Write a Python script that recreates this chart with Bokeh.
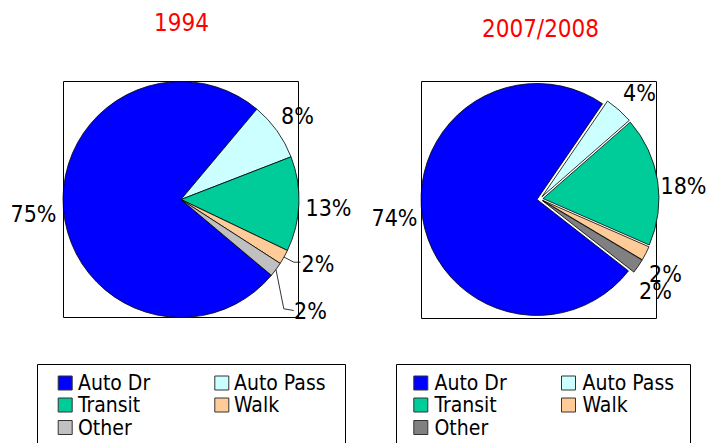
import numpy as np
from bokeh.plotting import figure
from bokeh.models import Range1d, ColumnDataSource
from bokeh.core.properties import value
from bokeh.embed import file_html
from bokeh.resources import INLINE

# ---------------- data ----------------
categories = ["Auto Dr", "Auto Pass", "Transit", "Walk", "Other"]
share_1994 = [75, 8, 13, 2, 2]
share_2008 = [74, 4, 18, 2, 2]
titles = ["1994", "2007/2008"]
colors_1994 = ["#0000FF", "#CCFFFF", "#00CC99", "#FFCC99", "#C0C0C0"]
colors_2008 = ["#0000FF", "#CCFFFF", "#00CC99", "#FFCC99", "#808080"]

# ---------------- layout (screen pixel coords, y downward) ----------------
W, H = 709, 443
FONT = "DejaVu Sans Condensed"


def Y(yp):
    return H - yp


pies = [
    dict(vals=share_1994, colors=colors_1994, title=titles[0],
         cx=180.5, cy=199, r=118, start=130, explode=0.0,
         box=(63, 81, 298, 317), title_xy=(181, 21.5),
         label_xy=[(33, 213), (297, 115), (328, 207), (317.5, 263), (310, 310)],
         leaders={3: [(293.3, 261.7), (300, 261.7)],
                  4: [(283.3, 308.3), (293.3, 310)]},
         legend_box=(37, 364, 345), legend_cols=(64.7, 221.3), legend_text=(77.5, 233.5)),
    dict(vals=share_2008, colors=colors_2008, title=titles[1],
         cx=539.5, cy=198.5, r=116, start=128, explode=3.0,
         box=(421, 81, 656, 318), title_xy=(540, 28.5),
         label_xy=[(394, 217), (639, 92), (683, 185), (665, 273), (655, 290)],
         leaders={},
         legend_box=(396, 364, 690), legend_cols=(420.3, 568), legend_text=(434, 582)),
]

p = figure(width=W, height=H, x_range=Range1d(0, W), y_range=Range1d(0, H),
           output_backend="svg", toolbar_location=None, min_border=0)
p.axis.visible = False
p.grid.visible = False
p.outline_line_color = None
p.background_fill_color = "white"

for pie in pies:
    vals = np.array(pie["vals"], dtype=float)
    frac = vals / vals.sum()
    cum = np.concatenate([[0.0], np.cumsum(frac)])
    th0 = pie["start"] + 360 * cum[:-1]   # clockwise from top
    th1 = pie["start"] + 360 * cum[1:]
    mid = np.radians((th0 + th1) / 2)
    ex = pie["explode"]
    xs = pie["cx"] + ex * np.sin(mid)
    ys = Y(pie["cy"]) + ex * np.cos(mid)
    src = ColumnDataSource(dict(
        x=xs, y=ys,
        start=np.radians(90 - th1), end=np.radians(90 - th0),
        color=pie["colors"], cat=categories))

    # plot-area frame
    bl, bt, br, bb = pie["box"]
    p.quad(left=[bl], right=[br], top=[Y(bt)], bottom=[Y(bb)],
           fill_color=None, line_color="#000000", line_width=1)

    p.wedge(x="x", y="y", radius=pie["r"], start_angle="start", end_angle="end",
            fill_color="color", line_color="#000000", line_width=0.8, source=src)

    # leader lines
    for idx, pts in pie["leaders"].items():
        m = mid[idx]
        sx = pie["cx"] + pie["r"] * np.sin(m)
        sy = pie["cy"] - pie["r"] * np.cos(m)
        lx = [sx] + [q[0] for q in pts]
        ly = [Y(sy)] + [Y(q[1]) for q in pts]
        p.line(lx, ly, line_color="#000000", line_width=0.8)

    # percentage labels
    labels = ["%d%%" % v for v in pie["vals"]]
    p.text(x=[q[0] for q in pie["label_xy"]], y=[Y(q[1]) for q in pie["label_xy"]],
           text=labels, text_align="center", text_baseline="middle",
           text_font=value(FONT), text_font_size="23px", text_color="#000000")

    # title
    p.text(x=[pie["title_xy"][0]], y=[Y(pie["title_xy"][1])], text=[pie["title"]],
           text_align="center", text_baseline="middle", text_font=value(FONT),
           text_font_size="24px", text_color="#FF0000")

    # legend
    lb_l, lb_t, lb_r = pie["legend_box"]
    p.quad(left=[lb_l], right=[lb_r], top=[Y(lb_t)], bottom=[Y(460)],
           fill_color=None, line_color="#000000", line_width=1)
    col_sw = pie["legend_cols"]
    col_tx = pie["legend_text"]
    row_y = [382.5, 404.5, 427.0]
    sw_x, sw_y, tx_x = [], [], []
    for i in range(len(categories)):
        r_, c_ = divmod(i, 2)
        sw_x.append(col_sw[c_])
        sw_y.append(Y(row_y[r_]))
        tx_x.append(col_tx[c_])
    p.rect(x=sw_x, y=sw_y, width=14, height=14, fill_color=pie["colors"],
           line_color="#333333", line_width=1)
    p.text(x=tx_x, y=sw_y, text=categories, text_align="left", text_baseline="middle",
           text_font=value(FONT), text_font_size="21px", text_color="#000000")

open("out.html", "w").write(file_html(p, INLINE))
